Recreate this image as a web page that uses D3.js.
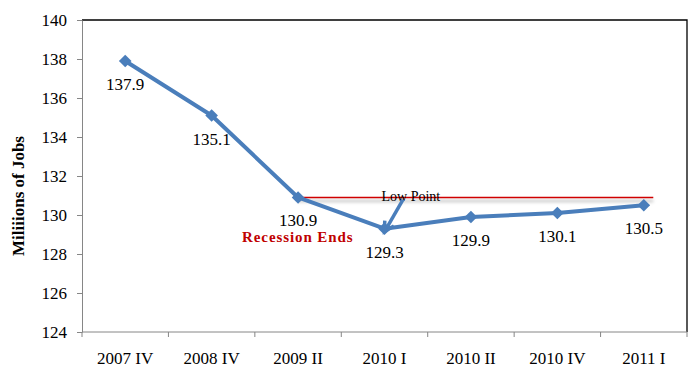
<!DOCTYPE html>
<html lang="en">
<head>
    <meta charset="UTF-8">
    <title>Millions of Jobs</title>
    <script src="https://d3js.org/d3.v7.min.js"></script>
    <style>
        body {
            margin: 0;
            background-color: #ffffff;
        }
        svg {
            display: block;
        }
        svg text {
            font-family: "Liberation Serif", "Times New Roman", serif;
        }
    </style>
</head>
<body>
    <svg id="chart" width="700" height="374"></svg>

    <script>
        // Quarters and jobs (millions)
        const categories = ["2007 IV", "2008 IV", "2009 II", "2010 I", "2010 II", "2010 IV", "2011 I"];
        const jobs = [137.9, 135.1, 130.9, 129.3, 129.9, 130.1, 130.5];
        const yTicks = [124, 126, 128, 130, 132, 134, 136, 138, 140];

        const margin = {top: 20, right: 13, bottom: 42, left: 82};
        const width = 700 - margin.left - margin.right;
        const height = 374 - margin.top - margin.bottom;

        const svg = d3.select('#chart');

        // soft blur used for the shadow under the red line
        svg.append('defs').append('filter')
            .attr('id', 'blur')
            .attr('filterUnits', 'userSpaceOnUse')
            .attr('x', 0).attr('y', 0)
            .attr('width', 700).attr('height', 374)
            .append('feGaussianBlur')
            .attr('stdDeviation', 1.5);

        const g = svg.append('g')
            .attr('transform', `translate(${margin.left},${margin.top})`);

        const x = d3.scaleBand()
            .domain(categories)
            .range([0, width]);

        const y = d3.scaleLinear()
            .domain([124, 140])
            .range([height, 0]);

        const cx = d => x(d) + x.bandwidth() / 2;

        // top and right frame
        g.append('path')
            .attr('d', `M0,0H${width}V${height}`)
            .attr('fill', 'none')
            .attr('stroke', '#000')
            .attr('stroke-width', 1.3);

        // y axis
        const yAxis = g.append('g')
            .call(d3.axisLeft(y).tickValues(yTicks).tickSize(5).tickPadding(10).tickSizeOuter(0));
        yAxis.attr('font-family', null);
        yAxis.selectAll('line, path').attr('stroke', '#868686');
        yAxis.selectAll('text')
            .attr('font-size', 17)
            .attr('fill', '#000');

        // x axis, ticks on band boundaries
        const xAxisG = g.append('g')
            .attr('transform', `translate(0,${height})`);
        xAxisG.append('line')
            .attr('x1', 0).attr('x2', width)
            .attr('stroke', '#868686');
        const bounds = categories.map(c => x(c)).concat([width]);
        xAxisG.selectAll('.tick')
            .data(bounds)
            .enter()
            .append('line')
            .attr('x1', d => d).attr('x2', d => d)
            .attr('y1', 0).attr('y2', 5)
            .attr('stroke', '#868686');
        xAxisG.selectAll('.xlabel')
            .data(categories)
            .enter()
            .append('text')
            .attr('x', d => cx(d))
            .attr('y', 32)
            .attr('text-anchor', 'middle')
            .attr('font-size', 17)
            .text(d => d);

        // y axis title
        svg.append('text')
            .attr('transform', `translate(24,${margin.top + height / 2 + 20}) rotate(-90)`)
            .attr('text-anchor', 'middle')
            .attr('font-size', 17)
            .attr('font-weight', 'bold')
            .text('Miliiions of Jobs');

        // red reference line at the recession end level, with its shadow
        const lastCat = categories[categories.length - 1];
        const refX1 = cx(categories[2]);
        const refX2 = x(lastCat) + x.bandwidth() * 0.61;
        g.append('line')
            .attr('x1', refX1).attr('x2', refX2)
            .attr('y1', y(jobs[2]) + 3.5).attr('y2', y(jobs[2]) + 3.5)
            .attr('stroke', '#000')
            .attr('stroke-opacity', 0.18)
            .attr('stroke-width', 3)
            .attr('filter', 'url(#blur)');
        g.append('line')
            .attr('x1', refX1).attr('x2', refX2)
            .attr('y1', y(jobs[2])).attr('y2', y(jobs[2]))
            .attr('stroke', '#D00000')
            .attr('stroke-width', 1.4);

        // series line
        const line = d3.line()
            .x((d, i) => cx(categories[i]))
            .y(d => y(d));

        g.append('path')
            .datum(jobs)
            .attr('d', line)
            .attr('fill', 'none')
            .attr('stroke', '#4A7EBB')
            .attr('stroke-width', 4)
            .attr('stroke-linejoin', 'round');

        // diamond markers
        g.selectAll('.marker')
            .data(jobs)
            .enter()
            .append('path')
            .attr('class', 'marker')
            .attr('d', d3.symbol().type(d3.symbolSquare).size(80))
            .attr('transform', (d, i) => `translate(${cx(categories[i])},${y(d)}) rotate(45)`)
            .attr('fill', '#4A7EBB');

        // data labels
        g.selectAll('.dlabel')
            .data(jobs)
            .enter()
            .append('text')
            .attr('x', (d, i) => cx(categories[i]))
            .attr('y', d => y(d) + 29)
            .attr('text-anchor', 'middle')
            .attr('font-size', 17)
            .text(d => d.toFixed(1));

        // annotations
        g.append('text')
            .attr('x', cx(categories[2]) - 56)
            .attr('y', y(jobs[2]) + 45)
            .attr('font-size', 15)
            .attr('font-weight', 'bold')
            .attr('letter-spacing', 0.9)
            .attr('fill', '#C00000')
            .text('Recession Ends');

        g.append('text')
            .attr('x', cx(categories[3]) - 3)
            .attr('y', y(jobs[2]) + 4)
            .attr('font-size', 14)
            .text('Low Point');

        // arrow pointing at the low point
        const tipX = cx(categories[3]);
        const tipY = y(jobs[3]) + 3;
        const startX = tipX + 18.5;
        const startY = tipY - 32;
        const ang = Math.atan2(tipY - startY, tipX - startX);
        const headLen = 11;
        const spread = 0.5;
        g.append('line')
            .attr('x1', startX).attr('y1', startY)
            .attr('x2', tipX - Math.cos(ang) * 3).attr('y2', tipY - Math.sin(ang) * 3)
            .attr('stroke', '#4A7EBB')
            .attr('stroke-width', 3.5);
        g.append('path')
            .attr('d', `M${tipX - headLen * Math.cos(ang - spread)},${tipY - headLen * Math.sin(ang - spread)}`
                + `L${tipX},${tipY}`
                + `L${tipX - headLen * Math.cos(ang + spread)},${tipY - headLen * Math.sin(ang + spread)}`)
            .attr('fill', 'none')
            .attr('stroke', '#4A7EBB')
            .attr('stroke-width', 3.5)
            .attr('stroke-linejoin', 'miter');
    </script>
</body>
</html>
